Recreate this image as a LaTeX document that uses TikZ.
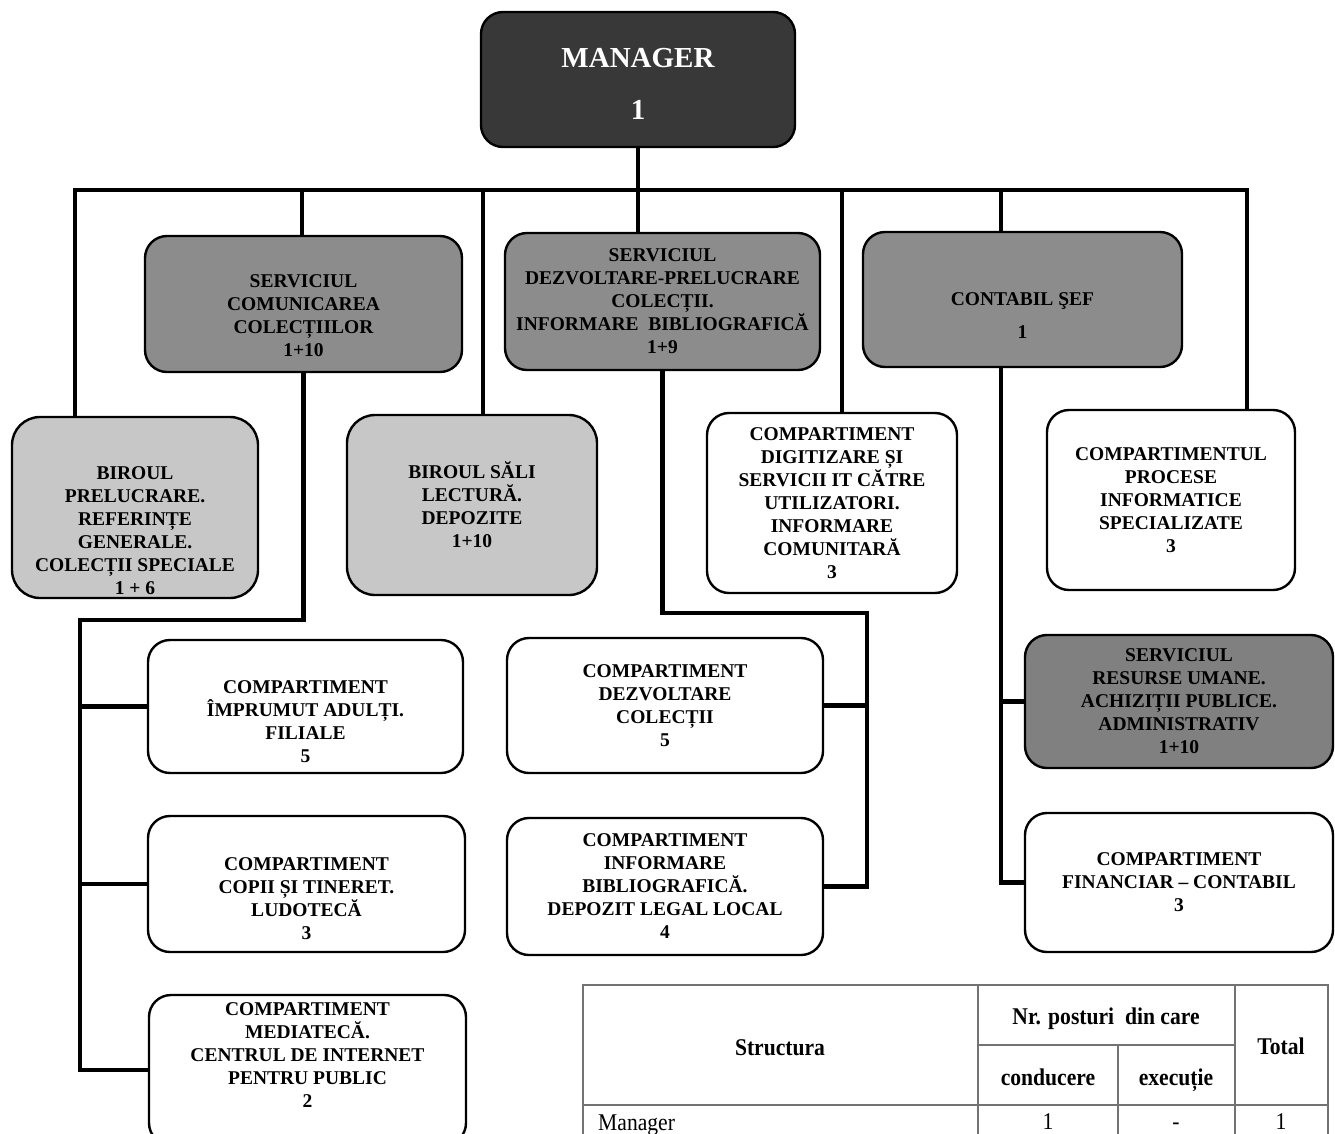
\documentclass[tikz,border=0pt]{standalone}
\usepackage{fontspec}
\setmainfont{Liberation Serif}
\newfontfamily\tabfont[FakeStretch=0.9]{Liberation Serif}
\newcommand{\padtop}[1]{\rule{0pt}{#1}}
\newcommand{\padbot}[1]{\rule[-#1]{0pt}{#1}}

\tikzset{
  sz/.style 2 args={minimum width=#1pt, minimum height=#2pt},
  orgbox/.style={draw, line width=2.4pt, rounded corners=22pt, align=center, inner sep=0pt,
    font=\bfseries\fontsize{19.5}{23}\selectfont},
  mgrbox/.style={orgbox, fill=black!78, text=white, font=\bfseries\fontsize{29}{34}\selectfont},
  svcbox/.style={orgbox, fill=black!45},
  birbox/.style={orgbox, fill=black!22, rounded corners=28pt},
  cmpbox/.style={orgbox, fill=white},
  link/.style={line width=4.2pt},
  tabline/.style={line width=2pt, draw=black!55},
  tabtxt/.style={inner sep=0pt, anchor=base, font=\tabfont\fontsize{24}{28}\selectfont},
  tabhead/.style={inner sep=0pt, anchor=base, font=\tabfont\bfseries\fontsize{24}{28}\selectfont},
}

\begin{document}
\begin{tikzpicture}[x=1pt,y=-1pt]
\useasboundingbox (0,0) rectangle (1335,1133);
\clip (0,0) rectangle (1335,1133);

%% conducere
\node[mgrbox,sz={314}{135}] (nMgr) at (638,79.5) {\padtop{28pt}MANAGER\\[18pt]1};

%% primul nivel
\node[svcbox,sz={317}{136}] (nSvcCom) at (303.5,304)
  {\padtop{37pt}SERVICIUL\\COMUNICAREA\\COLECȚIILOR\\1+10};
\node[svcbox,sz={315}{137}] (nSvcDev) at (662.5,301.5)
  {SERVICIUL\\DEZVOLTARE-PRELUCRARE\\COLECȚII.\\INFORMARE\ \ BIBLIOGRAFICĂ\\1+9};
\node[svcbox,sz={319}{135}] (nContab) at (1022.5,299.5)
  {\padtop{45pt}CONTABIL ŞEF\\[10pt]1};

%% al doilea nivel
\node[birbox,sz={246}{181}] (nBirPrel) at (135,507.5)
  {\padtop{59pt}BIROUL\\PRELUCRARE.\\REFERINȚE\\GENERALE.\\COLECȚII SPECIALE\\1 + 6};
\node[birbox,sz={250}{180}] (nBirSali) at (472,505)
  {BIROUL SĂLI\\LECTURĂ.\\DEPOZITE\\1+10};
\node[cmpbox,sz={250}{180}] (nDigit) at (832,503)
  {COMPARTIMENT\\DIGITIZARE ȘI\\SERVICII IT CĂTRE\\UTILIZATORI.\\INFORMARE\\COMUNITARĂ\\3};
\node[cmpbox,sz={248}{180}] (nProc) at (1171,500)
  {COMPARTIMENTUL\\PROCESE\\INFORMATICE\\SPECIALIZATE\\3};

%% compartimente - stanga
\node[cmpbox,sz={315}{133}] (nImprum) at (305.5,706.5)
  {\padtop{43pt}COMPARTIMENT\\ÎMPRUMUT ADULȚI.\\FILIALE\\5};
\node[cmpbox,sz={317}{136}] (nCopii) at (306.5,884)
  {\padtop{43pt}COMPARTIMENT\\COPII ȘI TINERET.\\LUDOTECĂ\\3};
\node[cmpbox,sz={317}{150}] (nMediat) at (307.5,1070)
  {COMPARTIMENT\\MEDIATECĂ.\\CENTRUL DE INTERNET\\PENTRU PUBLIC\\2\padbot{29pt}};

%% compartimente - mijloc
\node[cmpbox,sz={316}{135}] (nDezv) at (665,705.5)
  {COMPARTIMENT\\DEZVOLTARE\\COLECȚII\\5};
\node[cmpbox,sz={316}{137}] (nInfBib) at (665,886.5)
  {COMPARTIMENT\\INFORMARE\\BIBLIOGRAFICĂ.\\DEPOZIT LEGAL LOCAL\\4};

%% compartimente - dreapta
\node[svcbox,fill=black!50,sz={308}{133}] (nResUm) at (1179,701.5)
  {SERVICIUL\\RESURSE UMANE.\\ACHIZIȚII PUBLICE.\\ADMINISTRATIV\\1+10};
\node[cmpbox,sz={308}{139}] (nFinanc) at (1179,882.5)
  {COMPARTIMENT\\FINANCIAR – CONTABIL\\3};

%% legaturi
\coordinate (cBusL) at (75,190);
\coordinate (cBusR) at (1247,190);
\draw[link] (nMgr.south) -- (nMgr.south |- nSvcDev.north);
\draw[link] (cBusL |- nBirPrel.north) -- (cBusL) -- (cBusR) -- (cBusR |- nProc.north);
\foreach \x/\b in {302/nSvcCom, 483/nBirSali, 842/nDigit, 1001/nContab}
{
  \coordinate (cDrop) at (\x,190);
  \draw[link] (cDrop) -- (cDrop |- \b.north);
};

\coordinate (cComJog) at (80,620);
\draw[link] (nSvcCom.south) |- (cComJog) |- (nMediat.west);
\foreach \b in {nImprum, nCopii}
  \draw[link] (cComJog |- \b.west) -- (\b.west);

\coordinate (cDevJog) at (867,613);
\draw[link] (nSvcDev.south) |- (cDevJog) |- (nInfBib.east);
\draw[link] (cDevJog |- nDezv.east) -- (nDezv.east);

\coordinate (cFinCol) at (1001,367);
\draw[link] (cFinCol |- nContab.south) |- (nFinanc.west);
\draw[link] (cFinCol |- nResUm.west) -- (nResUm.west);

%% tabel
\draw[tabline] (583,1150) -- (583,985) -- (1328,985) -- (1328,1150);
\foreach \x in {978,1235}
  \draw[tabline] (\x,985) -- (\x,1150);
\draw[tabline] (1118,1045) -- (1118,1150);
\draw[tabline] (978,1045) -- (1235,1045);
\draw[tabline] (583,1105) -- (1328,1105);

\node[tabhead] (tStruct) at (780,1055) {Structura};
\node[tabhead] (tPost) at (1106,1024) {Nr. posturi\ \ din care};
\node[tabhead] (tCond) at (1048,1085) {conducere};
\node[tabhead] (tExec) at (1176,1085) {execuție};
\node[tabhead] (tTotal) at (1281,1054) {Total};

\node[tabtxt,anchor=base west] (tMgr) at (598,1130) {Manager};
\foreach \x/\t in {1048/1, 1176/-, 1281/1}
  \node[tabtxt] at (\x,1129) {\t};

\end{tikzpicture}
\end{document}
